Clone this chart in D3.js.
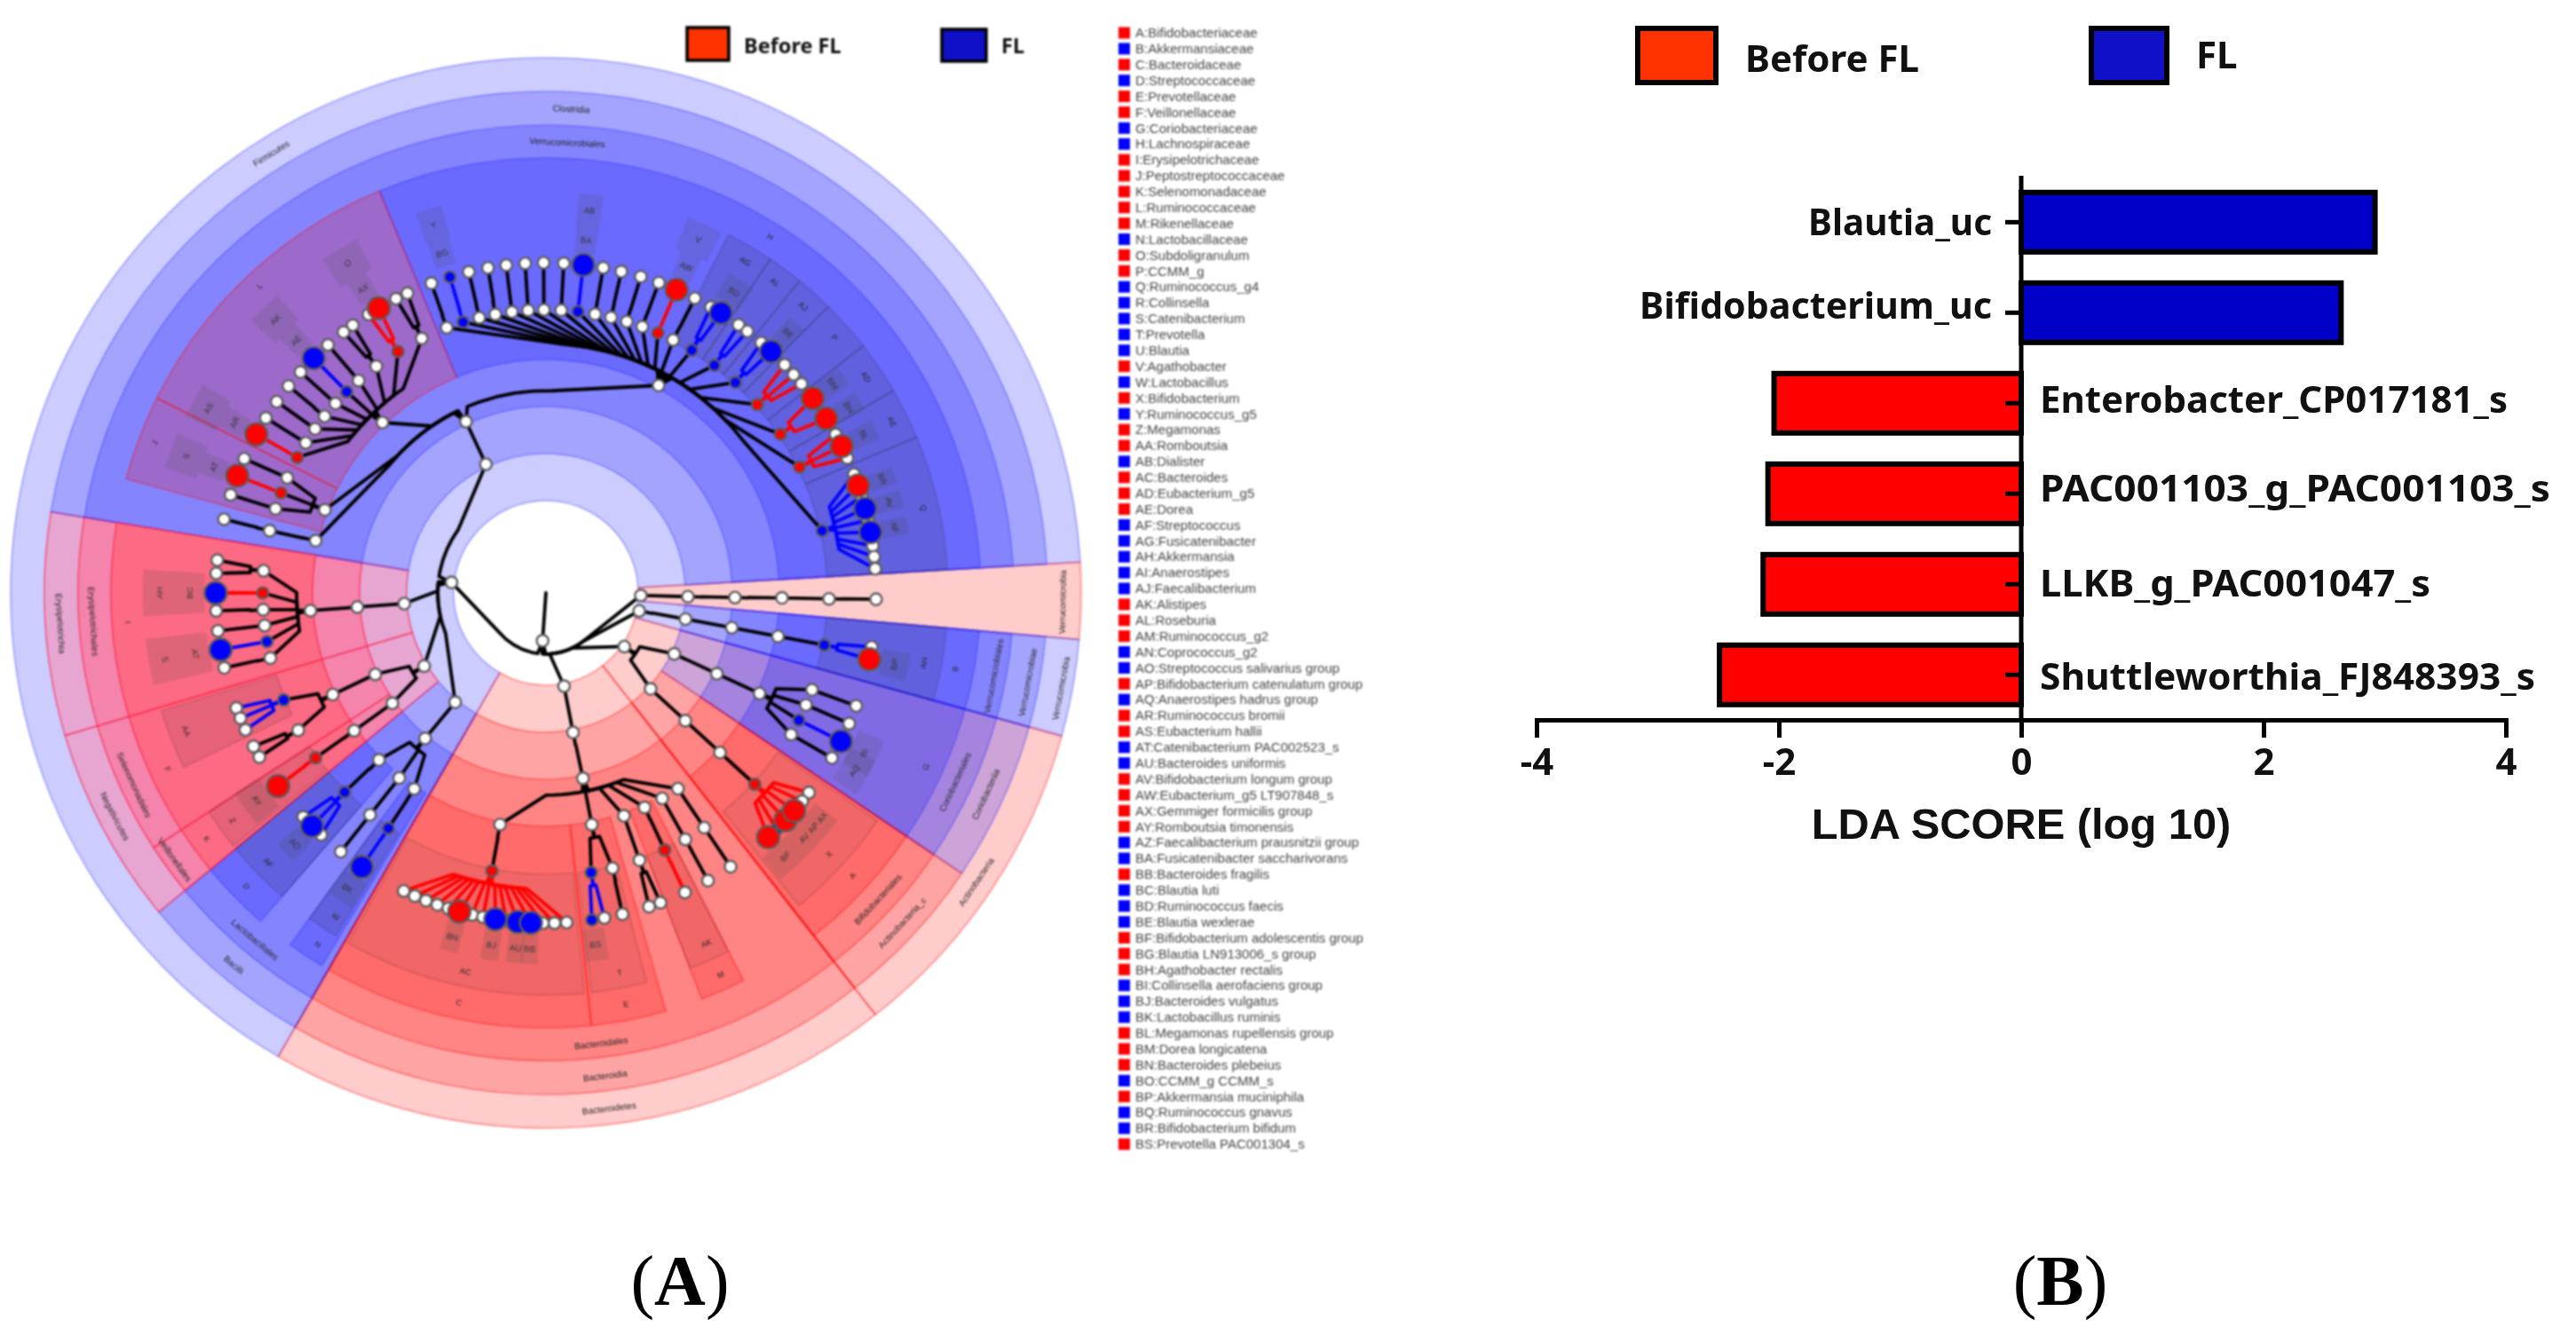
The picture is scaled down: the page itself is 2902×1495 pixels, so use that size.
<!DOCTYPE html>
<html><head><meta charset="utf-8">
<script src="https://cdn.jsdelivr.net/npm/d3@7/dist/d3.min.js"></script>
<style>html,body{margin:0;padding:0;background:#fff}svg{display:block}</style>
</head><body><svg id="c" width="2902" height="1495" viewBox="0 0 2902 1495"></svg>
<script>
// ---------- panel B data ----------
const ldaTaxa = ["Blautia_uc","Bifidobacterium_uc","Enterobacter_CP017181_s","PAC001103_g_PAC001103_s","LLKB_g_PAC001047_s","Shuttleworthia_FJ848393_s"];
const ldaScores = [2.92,2.64,-2.04,-2.09,-2.13,-2.49];
const ldaTicks = [-4,-2,0,2,4];
const groupNames = ["Before FL","FL"];
// ---------- panel A data ----------
const legendKeys = ["A:Bifidobacteriaceae","B:Akkermansiaceae","C:Bacteroidaceae","D:Streptococcaceae","E:Prevotellaceae","F:Veillonellaceae","G:Coriobacteriaceae","H:Lachnospiraceae","I:Erysipelotrichaceae","J:Peptostreptococcaceae","K:Selenomonadaceae","L:Ruminococcaceae","M:Rikenellaceae","N:Lactobacillaceae","O:Subdoligranulum","P:CCMM_g","Q:Ruminococcus_g4","R:Collinsella","S:Catenibacterium","T:Prevotella","U:Blautia","V:Agathobacter","W:Lactobacillus","X:Bifidobacterium","Y:Ruminococcus_g5","Z:Megamonas","AA:Romboutsia","AB:Dialister","AC:Bacteroides","AD:Eubacterium_g5","AE:Dorea","AF:Streptococcus","AG:Fusicatenibacter","AH:Akkermansia","AI:Anaerostipes","AJ:Faecalibacterium","AK:Alistipes","AL:Roseburia","AM:Ruminococcus_g2","AN:Coprococcus_g2","AO:Streptococcus salivarius group","AP:Bifidobacterium catenulatum group","AQ:Anaerostipes hadrus group","AR:Ruminococcus bromii","AS:Eubacterium hallii","AT:Catenibacterium PAC002523_s","AU:Bacteroides uniformis","AV:Bifidobacterium longum group","AW:Eubacterium_g5 LT907848_s","AX:Gemmiger formicilis group","AY:Romboutsia timonensis","AZ:Faecalibacterium prausnitzii group","BA:Fusicatenibacter saccharivorans","BB:Bacteroides fragilis","BC:Blautia luti","BD:Ruminococcus faecis","BE:Blautia wexlerae","BF:Bifidobacterium adolescentis group","BG:Blautia LN913006_s group","BH:Agathobacter rectalis","BI:Collinsella aerofaciens group","BJ:Bacteroides vulgatus","BK:Lactobacillus ruminis","BL:Megamonas rupellensis group","BM:Dorea longicatena","BN:Bacteroides plebeius","BO:CCMM_g CCMM_s","BP:Akkermansia muciniphila","BQ:Ruminococcus gnavus","BR:Bifidobacterium bifidum","BS:Prevotella PAC001304_s"];
const legendStates = "rbrbrrbbrrrrrbrrbbbbbrbrbrrbrrrbbbbbrrrbbrbrrbbrrrrbbrbbbrrrbbbrrrbrbbr".slice(0,71).split("");
// clade highlight wedges: [rank, startDeg, endDeg, colour key]
const phylumWedges = [[0,210,446.7,"b"],[0,86.7,95,"r"],[0,95,105.5,"b"],[0,105.5,142,"r"],[0,142,210,"r"]];
const classWedges = [[1,95,105.5,"b"],[1,105.5,124,"b"],[1,124,142,"r"],[1,142,210,"r"],[1,210,230.5,"b"],[1,230.5,253.5,"p1"],[1,253.5,279.3,"p1"],[1,279.3,446.7,"b"]];
const orderWedges = [[2,95,105.5,"b"],[2,105.5,124,"b"],[2,124,142,"r"],[2,142,210,"r"],[2,210,230.5,"b"],[2,230.5,237,"p2"],[2,237,253.5,"p2"],[2,253.5,279.3,"p2"],[2,279.3,446.7,"b"]];
const familyWedges = [[3,95,105.5,"b"],[3,105.5,124,"b"],[3,124,142,"r"],[3,174,210,"r"],[3,164,174,"r"],[3,153,159,"r"],[3,221,230.5,"b"],[3,211,216,"b"],[3,230.5,237,"p3"],[3,237,253.5,"p3"],[3,253.5,279.3,"p3"],[3,337.5,446.7,"b"],[3,285.2,296.6,"r"],[3,296.6,337.5,"r"]];
const genusWedges = [[4,95,105.5,"g"],[4,124.5,141,"h"],[4,174.5,209.5,"h"],[4,165.5,173.5,"h"],[4,153,159,"h"],[4,221,230.5,"g"],[4,211.5,216,"g"],[4,231,237,"i"],[4,244.3,253,"i"],[4,387,393.9,"g"],[4,393.9,399.1,"g"],[4,399.1,404.6,"g"],[4,404.6,412.1,"g"],[4,412.1,419.8,"g"],[4,419.8,427.2,"g"],[4,427.2,446.7,"g"]];
// shaded label strips: [centreDeg, halfWidthDeg, innerR, outerR, text]
const labelStrips = [[-17,1.7,385,415,"BG"],[-17,1.9,415,452,"Y"],[6.5,1.7,385,415,"BA"],[6.5,1.8,415,452,"AB"],[23.3,1.7,385,415,"AW"],[23.3,2.6,415,452,"V"],[-31,1.7,385,415,"AX"],[-31,2.8,415,452,"O"],[-44.7,1.7,385,415,"AE"],[-44.7,2.6,415,452,"AK"],[-61.3,1.7,385,415,"AR"],[-61.3,2.6,415,452,"AS"],[-69.2,1.7,385,415,"AT"],[-69.2,2.6,415,452,"S"],[270,3.3,385,417,"BC"],[270,3.3,417,454,"AH"],[260.1,3.3,385,417,"AT"],[260.1,3.3,417,454,"S"],[234.3,3,385,417,"AY"],[225,1.8,385,415,"AO"],[213.9,2.2,385,417,"BK"],[195.2,1.4,385,418,"BN"],[188.8,1.4,385,418,"BJ"],[184.9,1.3,385,418,"AU"],[182.6,1.3,385,418,"BB"],[172,1.8,382,418,"BS"],[137.7,3,385,417,"BF"],[133.5,1.1,385,417,"AV"],[131.3,1.1,385,417,"AP"],[129.1,1.1,385,417,"AX"],[116.7,3,385,417,"BI"],[120,3,385,417,"AQ"],[101.6,2.2,385,417,"BP"],[32,2.3,385,415,"BD"],[43,1.6,385,415,"BE"],[53.9,1.6,385,415,"BM"],[58.5,1.6,385,415,"BH"],[63.6,1.6,385,415,"BL"],[71.3,1.4,385,415,"BR"],[75.2,1.4,385,415,"AV"],[79.4,1.4,385,415,"AF"]];
// text on rings: [text, radius, angleDeg, fontSize]
const ringTexts = [["Firmicutes",584,-32,10],["Clostridia",546,3,10],["Verrucomicrobiales",508,2.7,10],["Bacteroidales",511,173,10],["Bacteroidia",548,173,10],["Bacteroidetes",585,173,10],["Verrucomicrobia",582,91,10],["Verrucomicrobiales",513,100.5,10],["Verrucomicrobiae",552,100.5,10],["Verrucomicrobia",590,100.5,10],["Coriobacteriales",508,114.8,10],["Coriobacteriia",545,114.6,10],["Actinobacteria",584,123.9,10],["Bifidobacteriales",509,132.7,10],["Actinobacteria_c",547,132.8,10],["Erysipelotrichales",511,266.4,10],["Erysipelotrichia",548,266.4,10],["Selenomonadales",512,245,10],["Negativicutes",547,242.6,10],["Veillonellales",515,234.3,10],["Bacilli",547,220,10],["Lactobacillales",510,220,10],["G",471,114.6,9],["A",470,132.7,9],["X",434,132.7,9],["B",469,100.5,9],["AH",433,100.5,9],["I",472,266,9],["F",470,245,9],["AA",434,249,9],["K",472,234,9],["Z",436,234,9],["D",472,225.6,9],["AF",436,225.8,9],["N",472,213,9],["W",435,213,9],["C",472,192,9],["AC",436,192,9],["E",472,169,9],["T",436,169,9],["M",473,155.4,9],["AK",434,155.4,9],["H",474,32.2,9],["L",473,-43,9],["J",472,-69,9],["AG",436,31,9],["AL",435,36.4,9],["AJ",434,41.9,9],["P",434,48.5,9],["AD",435,56,9],["AE",435,63.7,9],["Q",436,77.3,9]];
// tree: [id, parent, level, angleDeg, state]  w=white r=Before FL b=FL v=FL (small mark)
const treeRoot = [["c",null,0,184,"w"],["root","c",1,184,"w"],["Fir","root",2,276.4,"w"],["Bac","root",2,169,"w"],["Act","root",2,124.4,"w"],["Ver","root",2,100.9,"w"],["Oth","root",2,91.5,"w"]];
const treeOther = [["o1","Oth",3,91.5,"w"],["o2","o1",4,91.4,"w"],["o3","o2",5,91.2,"w"],["o4","o3",6,91.2,"w"],["o5","o4",7,91.1,"w"]];
const treeVer = [["v1","Ver",3,100.6,"w"],["v2","v1",4,100.6,"w"],["v3","v2",5,100.6,"w"],["v4","v3",6,100.6,"b"],["v5","v4",7,99.4,"w"],["v6","v4",7,101.6,"r"]];
const treeCorio = [["a1","Act",3,115.4,"w"],["a2","a1",4,115.3,"w"],["a3","a2",5,115.2,"w"],["a4","a3",6,110,"w"],["a5","a4",7,110,"w"],["a6","a3",6,113.3,"w"],["a7","a6",7,113.3,"w"],["a8","a3",6,116.7,"b"],["a9","a8",7,116.7,"b"],["a10","a3",6,120,"w"],["a11","a10",7,120,"w"]];
const treeBifido = [["x1","Act",3,132.5,"w"],["x2","x1",4,132.5,"w"],["x3","x2",5,132.5,"w"],["x4","x3",6,132.5,"r"],["x5","x4",7,127.2,"w"],["x6","x4",7,129.1,"w"],["x9","x4",7,135.7,"v"],["x10","x4",7,137.7,"r"],["x8","x4",7,133.5,"r"],["x7","x4",7,131.3,"r"]];
const treeBacteroid = [["b1","Bac",3,169,"w"],["b2","b1",4,168.7,"w"],["bC","b2",5,191.2,"w"],["bCg","bC",6,191,"r"],["s1","bCg",7,205.5,"w"],["s2","bCg",7,203.4,"w"],["s3","bCg",7,201.3,"w"],["s4","bCg",7,199.2,"w"],["s5","bCg",7,197.2,"w"],["s7","bCg",7,192.9,"w"],["s8","bCg",7,191,"w"],["s9","bCg",7,186.9,"w"],["s13","bCg",7,180.5,"w"],["s14","bCg",7,178.5,"w"],["s15","bCg",7,176.4,"w"],["s6","bCg",7,195.2,"r"],["s10","bCg",7,188.8,"b"],["s11","bCg",7,184.9,"b"],["s12","bCg",7,182.6,"b"],
 ["bE","b2",5,168.8,"w"],["bE1","bE",6,170.8,"b"],["bE2","bE1",7,172,"v"],["bE3","bE1",7,169.8,"w"],["bE4","bE",6,166.4,"w"],["bE5","bE4",7,166.6,"w"],
 ["f1","b2",5,160.7,"w"],["f2","f1",6,160.7,"w"],["f3","f2",7,161.8,"w"],["f4","f2",7,159.7,"w"],
 ["m1","b2",5,155.3,"w"],["m2","m1",6,155.2,"r"],["m3","m2",7,155.1,"w"],
 ["p1","b2",5,150.5,"w"],["p2","p1",6,150.5,"w"],["p3","p2",7,150.6,"w"],
 ["q1","b2",5,146,"w"],["q2","q1",6,146,"w"],["q3","q2",7,146,"w"]];
const treeBacilli = [["ba1","Fir",3,219.7,"w"],["ba2","ba1",4,219.7,"w"],["ba3","ba2",5,225,"w"],["ba4","ba3",6,225.3,"b"],["ba5","ba4",7,227.3,"w"],["ba7","ba4",7,222.9,"w"],["ba6","ba4",7,225.1,"b"],["ba8","ba2",5,218.4,"w"],["ba9","ba8",6,218.4,"w"],["ba10","ba9",7,218.4,"w"],["ba11","ba2",5,213.9,"w"],["ba12","ba11",6,213.8,"b"],["ba13","ba12",7,213.9,"b"]];
const treeNeg = [["n1","Fir",3,239,"w"],["n2","n1",4,244.5,"w"],["n3","n2",5,244.5,"w"],["n4","n3",6,247.8,"b"],["n5","n4",7,249.6,"w"],["n6","n4",7,247.7,"w"],["n7","n4",7,245.5,"w"],["n8","n3",6,241,"w"],["n9","n8",7,242.3,"w"],["n10","n8",7,240.2,"w"],["n11","n1",4,234.3,"w"],["n12","n11",5,234.3,"w"],["n13","n12",6,234.4,"r"],["n14","n13",7,234.2,"r"]];
const treeErys = [["e1","Fir",3,265.7,"w"],["e2","e1",4,265.7,"w"],["e3","e2",5,265.7,"w"],["e4","e3",6,274.5,"w"],["e5","e4",7,275.7,"w"],["e6","e4",7,273.4,"w"],["e7","e3",6,270,"r"],["e8","e7",7,270,"b"],["e9","e3",6,266.6,"w"],["e10","e9",7,266.9,"w"],["e11","e3",6,263.4,"w"],["e12","e11",7,263.4,"w"],["e13","e3",6,260.1,"b"],["e14","e13",7,260.1,"b"],["e15","e3",6,256.7,"w"],["e16","e15",7,256.9,"w"]];
const treeClos = [["k1","Fir",3,335,"w"],["k2","k1",4,335,"w"],
 ["x3n","k2",5,282.8,"w"],["x3g","x3n",6,282.7,"w"],["x3s","x3g",7,282.9,"w"],
 ["J","k2",5,290.6,"w"],["J1","J",6,294,"w"],["J2","J1",7,294,"w"],["J3","J",6,290.7,"r"],["J4","J3",7,290.8,"r"],["J5","J",6,287.3,"w"],["J6","J5",7,287.3,"w"],
 ["L","k2",5,316.2,"w"],["L1","L",6,334,"w"],["L2","L1",7,333,"w"],["L3","L1",7,335.2,"w"],["L4","L",6,328.5,"r"],["L6","L4",7,327.5,"w"],["L5","L4",7,329.6,"r"],["L7","L",6,323.2,"w"],["L8","L7",7,324.2,"w"],["L9","L7",7,322.2,"w"],["L10","L",6,318.6,"w"],["L11","L10",7,318.7,"w"],["L12","L",6,315.3,"b"],["L13","L12",7,315.3,"b"],["L14","L",6,312,"w"],["L15","L14",7,312,"w"],["L16","L",6,308.6,"w"],["L17","L16",7,308.8,"w"],["L18","L",6,305.4,"w"],["L19","L18",7,305.4,"w"],["L20","L",6,302,"w"],["L21","L20",7,302,"w"],["L22","L",6,298.6,"r"],["L23","L22",7,298.7,"r"],
 ["H","k2",5,28.5,"w"]];
const treeLachno = [["h1","H",6,-20.5,"w"],["h1s","h1",7,-20.3,"w"],["h2","H",6,-17,"b"],["h2s","h2",7,-16.9,"v"],["h3","H",6,-13.6,"w"],["h3s","h3",7,-13.5,"w"],["h4","H",6,-10.3,"w"],["h4s","h4",7,-10.1,"w"],["h5","H",6,-6.9,"w"],["h5s","h5",7,-6.9,"w"],["h6","H",6,-3.6,"w"],["h6s","h6",7,-3.6,"w"],["h7","H",6,-0.4,"w"],["h7s","h7",7,-0.4,"w"],["h8","H",6,3.1,"w"],["h8s","h8",7,3.1,"w"],["h9","H",6,6.5,"b"],["h9s","h9",7,6.5,"b"],["h10","H",6,10,"w"],["h10s","h10",7,10,"w"],["h11","H",6,13.3,"w"],["h11s","h11",7,13.2,"w"],["h12","H",6,16.6,"w"],["h12s","h12",7,16.7,"w"],["h13","H",6,19.9,"w"],["h13s","h13",7,20,"w"],["h14","H",6,23.3,"r"],["h14s","h14",7,23.3,"r"],["h15","H",6,26.7,"w"],["h15s","h15",7,26.8,"w"],
 ["h16","H",6,31,"b"],["h16a","h16",7,30,"w"],["h16b","h16",7,32,"b"],["h17","H",6,36.5,"b"],["h17a","h17",7,35.7,"w"],["h17b","h17",7,37.6,"w"],["h18","H",6,42,"b"],["h18a","h18",7,40.7,"w"],["h18b","h18",7,43,"b"],["h19","H",6,48.3,"r"],["h19a","h19",7,46.3,"w"],["h19b","h19",7,48.6,"w"],["h19c","h19",7,50.7,"w"],["h20","H",6,55.9,"r"],["h20a","h20",7,53.9,"r"],["h20b","h20",7,58.1,"r"],["h21","H",6,63.6,"r"],["h21a","h21",7,61.3,"w"],["h21c","h21",7,65.9,"w"],["h21b","h21",7,63.6,"r"],["h22","H",6,77.3,"b"],["h22a","h22",7,68.9,"w"],["h22f","h22",7,73,"w"],["h22g","h22",7,77.3,"w"],["h22d","h22",7,81.8,"w"],["h22e","h22",7,83.7,"w"],["h22h","h22",7,85.8,"w"],["h22b","h22",7,71,"r"],["h22c","h22",7,75.2,"b"],["h22k","h22",7,79.4,"b"]];

// ---------- scales and layout ----------
const svg = d3.select("#c");
const cx = 615, cy = 668;
const rankInner = [104,157,210,263,317], rankOuter = [603,565,527,490,453];
const levelR = d3.scaleLinear().domain([0,1,7]).range([0,54,372]);
const rad = d => d*Math.PI/180;
const palette = {b:"rgba(0,0,255,0.2)",r:"rgba(255,0,0,0.2)",g:"rgba(50,50,60,0.16)",h:"rgba(60,40,40,0.07)",i:"rgba(60,40,40,0.12)",p1:"rgb(231,166,210)",p2:"rgb(244,132,172)",p3:"rgb(253,106,131)"};
const strokes = {b:"rgba(40,40,255,0.38)",r:"rgba(255,0,0,0.4)",g:"rgba(40,40,60,0.22)",h:"rgba(60,30,30,0.18)",i:"rgba(60,30,30,0.15)",p1:"rgba(255,20,60,0.6)",p2:"rgba(255,20,60,0.6)",p3:"rgba(255,20,60,0.6)"};
const state = {r:"#ff0000",b:"#0000ff",v:"#0000ff",w:"#ffffff"};
const arc = d3.arc();
const left = svg.append("g").style("filter","blur(0.8px)");
const clade = left.append("g").attr("transform",`translate(${cx},${cy})`);

const wedges = [].concat(phylumWedges,classWedges,orderWedges,familyWedges,genusWedges);
clade.append("g").selectAll("path").data(wedges).join("path")
  .attr("d",d=>arc({innerRadius:rankInner[d[0]],outerRadius:rankOuter[d[0]],startAngle:rad(d[1]),endAngle:rad(d[2])}))
  .attr("fill",d=>palette[d[3]]).attr("stroke",d=>strokes[d[3]]).attr("stroke-width",1.6);

clade.append("g").selectAll("path").data(labelStrips).join("path")
  .attr("d",d=>arc({innerRadius:d[2],outerRadius:d[3],startAngle:rad(d[0]-d[1]),endAngle:rad(d[0]+d[1])}))
  .attr("fill","rgba(70,70,70,0.17)");

const tangent = a => { const m=((a%360)+360)%360; return (m>90.5&&m<270)? m-180 : m; };
const place = (r,a)=>{const p=d3.pointRadial(rad(a),r);return `translate(${p[0]},${p[1]}) rotate(${tangent(a)})`;};
clade.append("g").selectAll("text").data(labelStrips).join("text")
  .attr("transform",d=>place((d[2]+d[3])/2,d[0])).attr("text-anchor","middle").attr("dy","0.35em")
  .attr("font-family","Liberation Sans").attr("font-size",9.5).attr("fill","#333").text(d=>d[4]);
clade.append("g").selectAll("text").data(ringTexts).join("text")
  .attr("transform",d=>place(d[1],d[2])).attr("text-anchor","middle").attr("dy","0.35em")
  .attr("font-family","Liberation Sans").attr("font-size",d=>d[3]).attr("fill","#222").text(d=>d[0]);

const nodes = [].concat(treeRoot,treeOther,treeVer,treeCorio,treeBifido,treeBacteroid,treeBacilli,treeNeg,treeErys,treeClos,treeLachno)
  .map(d=>({id:d[0],parent:d[1],level:d[2],angle:d[3],state:d[4]}));
const byId = new Map(nodes.map(d=>[d.id,d]));
const radial = d3.lineRadial().angle(d=>rad(d[0])).radius(d=>d[1]);
const linkPath = n => {
  const p = byId.get(n.parent), rp=levelR(p.level), rc=levelR(n.level);
  let ap=p.angle, ac=n.angle;
  if (ac-ap>180) ac-=360; if (ap-ac>180) ac+=360;
  const rm = rp+0.28*(rc-rp), pts=[[ap,rp]];
  d3.range(0,6).forEach(i=>pts.push([ap+(i/5)*0.5*(ac-ap),rm]));
  pts[1][0]=ap+0.04*(ac-ap);
  pts.push([ac,rc]);
  return radial(pts);
};
clade.append("g").attr("fill","none").attr("stroke-linejoin","round").attr("stroke-linecap","round")
  .selectAll("path").data(nodes.filter(d=>d.parent)).join("path")
  .attr("d",linkPath).attr("stroke-width",3.8)
  .attr("stroke",d=>{const s=byId.get(d.parent).state;return s==="w"?"#000":state[s];});
const nodeR = d => d.state==="w"?6.6:(d.level===7&&d.state!=="v"?12.5:6.4);
clade.append("g").selectAll("circle").data(nodes.filter(d=>d.level>0)).join("circle")
  .attr("transform",d=>{const p=d3.pointRadial(rad(d.angle),levelR(d.level));return `translate(${p[0]},${p[1]})`;})
  .attr("r",nodeR).attr("fill",d=>state[d.state]).attr("stroke","#5c5c5c").attr("stroke-width",2.4);

// top legend A
const legendA = left.append("g").attr("font-family","Noto Sans").attr("font-weight",700).attr("font-size",23.5).attr("fill","#111");
[[774,31,47,37,"#ff3300",838,52,groupNames[0]],[1061,33,50,36,"#1010c8",1128,52,groupNames[1]]].forEach(d=>{
  legendA.append("rect").attr("x",d[0]).attr("y",d[1]).attr("width",d[2]).attr("height",d[3]).attr("fill",d[4]).attr("stroke","#000").attr("stroke-width",3.5);
  legendA.append("text").attr("x",d[5]).attr("y",d[6]).attr("dy","0.35em").text(d[7]);
});
// side key
const keyY = d3.scaleLinear().domain([0,70]).range([37,1289]);
const key = left.append("g");
key.selectAll("rect").data(legendKeys).join("rect").attr("x",1260).attr("y",(d,i)=>keyY(i)-6.5).attr("width",13).attr("height",13)
  .attr("fill",(d,i)=>state[legendStates[i]]);
key.selectAll("text").data(legendKeys).join("text").attr("x",1279).attr("y",(d,i)=>keyY(i)).attr("dy","0.35em")
  .attr("font-family","Liberation Sans").attr("font-size",15).attr("fill","#444").text(d=>d);

// ---------- panel B ----------
const right = svg.append("g").style("filter","blur(0.45px)");
const x = d3.scaleLinear().domain([-4,4]).range([1731,2823]);
const y = d3.scaleBand().domain(ldaTaxa).range([199.3,811.3]).paddingInner(0.343).paddingOuter(0.1715);
const barFont = "Noto Sans";
const axisY = 811, labelShift = [0,-8,-4,-6,-1,2], labelFit = [207,397,527,575,440,558];
right.selectAll("rect.bar").data(ldaTaxa).join("rect").attr("class","bar")
  .attr("x",(d,i)=>Math.min(x(0),x(ldaScores[i]))).attr("y",d=>y(d))
  .attr("width",(d,i)=>Math.abs(x(ldaScores[i])-x(0))).attr("height",y.bandwidth())
  .attr("fill",(d,i)=>ldaScores[i]>0?"#0000c8":"#ff0000").attr("stroke","#000").attr("stroke-width",6);
const axisB = right.append("g").attr("transform",`translate(0,${axisY})`).call(d3.axisBottom(x).tickValues(ldaTicks).tickSize(20).tickPadding(12).tickFormat(d=>String(d)));
axisB.selectAll(".domain").attr("stroke","#000").attr("stroke-width",5);
axisB.selectAll(".tick line").attr("stroke","#000").attr("stroke-width",5);
axisB.selectAll("text").attr("font-family",barFont).attr("font-weight",700).attr("font-size",42).attr("fill","#111");
const axisL = right.append("g").attr("transform",`translate(${x(0)},0)`).call(d3.axisLeft(y).tickSize(18).tickFormat(""));
axisL.selectAll(".domain").attr("stroke","#000").attr("stroke-width",5).attr("d",`M0,198V${axisY}`);
axisL.selectAll(".tick line").attr("stroke","#000").attr("stroke-width",5);
right.selectAll("text.cat").data(ldaTaxa).join("text").attr("class","cat")
  .attr("x",(d,i)=>ldaScores[i]>0?x(0)-33:x(0)+21)
  .attr("y",(d,i)=>y(d)+y.bandwidth()/2+labelShift[i]).attr("dy","0.35em")
  .attr("text-anchor",(d,i)=>ldaScores[i]>0?"end":"start")
  .attr("textLength",(d,i)=>labelFit[i]).attr("lengthAdjust","spacingAndGlyphs")
  .attr("font-family",barFont).attr("font-weight",700).attr("font-size",41.5).attr("fill","#111").text(d=>d);
right.append("text").attr("x",2277).attr("y",928).attr("dy","0.35em").attr("text-anchor","middle")
  .attr("font-family","Liberation Sans").attr("font-weight",700).attr("font-size",48.8).attr("fill","#111").text("LDA SCORE (log 10)");
[[1845,32,88,61,"#ff3300",1966,66,groupNames[0]],[2356,32,85,61,"#1010c8",2474,62,groupNames[1]]].forEach(d=>{
  right.append("rect").attr("x",d[0]).attr("y",d[1]).attr("width",d[2]).attr("height",d[3]).attr("fill",d[4]).attr("stroke","#000").attr("stroke-width",6);
  right.append("text").attr("x",d[5]).attr("y",d[6]).attr("dy","0.35em").attr("font-family",barFont).attr("font-weight",700).attr("font-size",42).attr("fill","#111").text(d[7]);
});
// panel letters
[[766,"A"],[2321,"B"]].forEach(d=>{
  const t=svg.append("text").attr("x",d[0]).attr("y",1442).attr("dy","0.35em").attr("text-anchor","middle")
    .attr("font-family","Liberation Serif").attr("font-size",80).attr("fill","#000");
  t.append("tspan").text("(");t.append("tspan").attr("font-weight",700).text(d[1]);t.append("tspan").text(")");
});
</script></body></html>
